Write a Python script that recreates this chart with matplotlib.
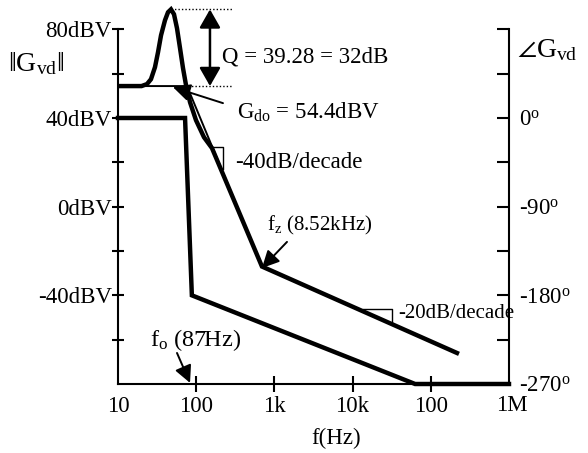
import matplotlib
matplotlib.use("Agg")
import matplotlib.pyplot as plt

plt.rcParams['font.family'] = ['Liberation Serif', 'DejaVu Serif']
plt.rcParams['mathtext.fontset'] = 'custom'
plt.rcParams['mathtext.rm'] = 'Liberation Serif'
plt.rcParams['mathtext.it'] = 'Liberation Serif:italic'
plt.rcParams['mathtext.bf'] = 'Liberation Serif:bold'

# ---- data ----
# magnitude (thick) curve, Hz / dBV
mag_f = [10, 20, 23.5, 26.4, 29.7, 32.5, 35.5, 39.9, 43.6, 47.6, 52.0, 56.8,
         62.1, 67.8, 74.1, 83.4, 99.4, 125.9, 159.2, 693, 216000]
mag_db = [54.4, 54.4, 55.3, 57.5, 62.9, 69.7, 77.3, 84.1, 87.7, 89.0, 86.8, 80.5,
          71.5, 62.5, 54.8, 47.1, 39.0, 31.3, 26.4, -27.0, -66.0]
# asymptote (thin)
asym_f = [10, 76.2, 693]
asym_db = [54.4, 54.4, -27.0]
# phase curve, Hz / degrees
ph_f = [10, 72, 88, 63000, 1e6]
ph_deg = [0, 0, -180, -270, -270]

x_ticks = [10, 100, 1e3, 1e4, 1e5, 1e6]
x_labels = ['10', '100', '1k', '10k', '100', '1M']
db_ticks = [-60, -40, -20, 0, 20, 40, 60, 80]
db_labels = ['', '-40dBV', '', '0dBV', '', '40dBV', '', '80dBV']
ph_ticks = [-270, -225, -180, -135, -90, -45, 0, 45, 90]
ph_labels = [r'-270$^{\rm o}$', '', r'-180$^{\rm o}$', '', r'-90$^{\rm o}$', '',
             r'0$^{\rm o}$', '', '']

Q_text = 'Q = 39.28 = 32dB'
Gdo_text = r'G$_{\rm do}$ = 54.4dBV'
fz_text = r'f$_{\rm z}$ (8.52kHz)'
fo_text = r'f$_{\rm o}$ (87Hz)'

DB_TOP = 92.1
FS = 16.5

fig = plt.figure(figsize=(5.88, 4.53), dpi=100)
ax = fig.add_axes([118 / 588, (453 - 384) / 453, 391 / 588, (384 - 2.5) / 453])
ax.set_xscale('log')
ax.set_xlim(10, 1e6)
ax.set_ylim(-80, DB_TOP)
ax2 = ax.twinx()
ax2.set_ylim(-270, (DB_TOP - 40) * 90 / 40)

for a in (ax, ax2):
    for s in a.spines.values():
        s.set_linewidth(1.5)
ax.spines['top'].set_visible(False)
ax.spines['right'].set_visible(False)
ax.spines['left'].set_bounds(-80, 80)
for k in ('top', 'left', 'bottom'):
    ax2.spines[k].set_visible(False)
ax2.spines['right'].set_bounds(-270, 90)

ax.set_xticks(x_ticks)
ax.set_xticklabels(x_labels)
ax.xaxis.set_minor_locator(matplotlib.ticker.NullLocator())
ax.tick_params(axis='x', direction='inout', length=11, width=1.5, pad=3, labelsize=FS)
xt = ax.xaxis.get_major_ticks()
xt[0].tick1line.set_visible(False)
xt[-1].tick1line.set_visible(False)
ax.set_yticks(db_ticks)
ax.set_yticklabels(db_labels)
ax.tick_params(axis='y', direction='inout', length=9, width=1.5, pad=0, labelsize=FS)
ax2.set_yticks(ph_ticks)
ax2.set_yticklabels(ph_labels)
ax2.tick_params(axis='y', direction='in', length=9, width=1.5, pad=7, labelsize=FS)

# curves
ax.plot(asym_f, asym_db, color='k', lw=1.4, solid_capstyle='butt')
ax.plot(mag_f, mag_db, color='k', lw=3.2, solid_joinstyle='miter')
ax2.plot(ph_f, ph_deg, color='k', lw=3.2, clip_on=False, solid_joinstyle='miter')

# Q annotation
ax.plot([47.6, 287], [89.0, 89.0], color='k', lw=1.0, ls=(0, (1, 1.5)))
ax.plot([78, 287], [54.4, 54.4], color='k', lw=1.0, ls=(0, (1, 1.5)))
ax.annotate('', xy=(150, 89.0), xytext=(150, 54.4),
            arrowprops=dict(arrowstyle='<|-|>,head_length=0.35,head_width=0.2',
                            color='k', lw=1.8, mutation_scale=32,
                            shrinkA=0, shrinkB=0))
ax.text(214, 67.5, Q_text, fontsize=FS, va='center', ha='left')

# Gdo annotation
ax.annotate('', xy=(50.5, 53.9), xytext=(220, 46.7),
            arrowprops=dict(arrowstyle='-|>,head_length=0.4,head_width=0.2',
                            color='k', lw=1.4, mutation_scale=26,
                            shrinkA=0, shrinkB=0))
ax.text(332, 42.7, Gdo_text, fontsize=FS, va='center', ha='left')

# -40 dB/decade
ax.plot([159, 220, 220], [26.8, 26.8, 16.9], color='k', lw=1.0)
ax.text(313, 19.7, '-40dB/decade', fontsize=FS, va='center', ha='left')

# fz annotation
ax.annotate('', xy=(693, -27.7), xytext=(1449, -15.9),
            arrowprops=dict(arrowstyle='-|>,head_length=0.4,head_width=0.2',
                            color='k', lw=1.4, mutation_scale=26,
                            shrinkA=0, shrinkB=0))
ax.text(804, -8.3, fz_text, fontsize=15, va='center', ha='left')

# -20 dB/decade
ax.plot([13600, 31900, 31900], [-46.2, -46.2, -52.0], color='k', lw=1.0)
ax.text(38100, -48.4, '-20dB/decade', fontsize=15, va='center', ha='left')

# fo annotation
ax.annotate('', xy=(83.4, -79.5), xytext=(56.8, -66.0),
            arrowprops=dict(arrowstyle='-|>,head_length=0.4,head_width=0.2',
                            color='k', lw=1.4, mutation_scale=26,
                            shrinkA=0, shrinkB=0))
ax.text(25.6, -60.2, fo_text, fontsize=17.5, va='center', ha='left')

# axis titles
fig.text(36 / 588, 1 - 64 / 453, r'$\Vert$G$_{\rm vd}$$\Vert$', fontsize=20,
         ha='center', va='center')
fig.text(517 / 588, 1 - 50 / 453, r'$\angle$G$_{\rm vd}$', fontsize=20,
         ha='left', va='center')
lbl_1M = ax.xaxis.get_major_ticks()[-1].label1
lbl_1M.set_transform(lbl_1M.get_transform() +
                     matplotlib.transforms.ScaledTranslation(3 / 100, 1 / 100, fig.dpi_scale_trans))
fig.text(336 / 588, 1 - 438 / 453, 'f(Hz)', fontsize=FS, ha='center', va='center')

fig.savefig('out.png', dpi=100)
